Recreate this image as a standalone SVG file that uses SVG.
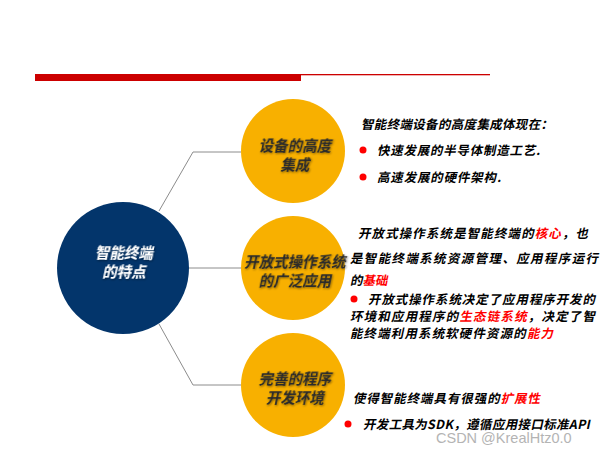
<svg xmlns="http://www.w3.org/2000/svg" width="600" height="450" viewBox="0 0 600 450">
<style>
text{font-family:"Noto Sans CJK SC","Liberation Sans",sans-serif;font-weight:bold;}
.c{font-size:14.5px;text-anchor:middle;fill:#2b2b2b;}
.w{fill:#ffffff;}
.t{font-size:12.5px;fill:#000;}
.r{fill:#ff0000;}
.conn{fill:none;stroke:#8c8c8c;stroke-width:1;}
.dot{fill:#ff0000;}
.org{fill:#f8b000;}
</style>
<defs>
<filter id="sh" x="-10%" y="-10%" width="120%" height="130%">
<feDropShadow dx="1" dy="1" stdDeviation="0.8" flood-color="#000" flood-opacity="0.45"/>
</filter>
</defs>
<rect width="600" height="450" fill="#ffffff"/>
<rect x="35" y="74" width="266" height="7" fill="#cc0000"/>
<rect x="301" y="74" width="189" height="1.3" fill="#cc0000"/>
<g id="connectors">
<polyline class="conn" points="159,211 193,152 241,152"/>
<line class="conn" x1="189" y1="268" x2="241" y2="268"/>
<polyline class="conn" points="159,324 193,385 241,385"/>
</g>
<g id="center">
<circle cx="123" cy="268" r="66" fill="#03356b"/>
<text class="c w" transform="translate(124,258) skewX(-12)" filter="url(#sh)">智能终端</text>
<text class="c w" transform="translate(124,277) skewX(-12)" filter="url(#sh)">的特点</text>
</g>
<g id="n1">
<circle class="org" cx="293" cy="151" r="52"/>
<text class="c" transform="translate(295,151) skewX(-12)" filter="url(#sh)">设备的高度</text>
<text class="c" transform="translate(295,170) skewX(-12)" filter="url(#sh)">集成</text>
</g>
<g id="n2">
<circle class="org" cx="293" cy="268" r="52"/>
<text class="c" transform="translate(295,267) skewX(-12)" filter="url(#sh)">开放式操作系统</text>
<text class="c" transform="translate(295,286) skewX(-12)" filter="url(#sh)">的广泛应用</text>
</g>
<g id="n3">
<circle class="org" cx="293" cy="385" r="52"/>
<text class="c" transform="translate(295,384) skewX(-12)" filter="url(#sh)">完善的程序</text>
<text class="c" transform="translate(295,403) skewX(-12)" filter="url(#sh)">开发环境</text>
</g>
<g id="t1">
<text class="t" transform="translate(361,129) skewX(-12)" textLength="192">智能终端设备的高度集成体现在：</text>
<circle class="dot" cx="363" cy="150" r="3.5"/>
<text class="t" transform="translate(377,155) skewX(-12)" textLength="163">快速发展的半导体制造工艺.</text>
<circle class="dot" cx="363" cy="177" r="3.5"/>
<text class="t" transform="translate(377,182) skewX(-12)" textLength="124">高速发展的硬件架构.</text>
</g>
<g id="t2">
<text class="t" transform="translate(358,238) skewX(-12)" textLength="230">开放式操作系统是智能终端的<tspan class="r">核心</tspan>，也</text>
<text class="t" transform="translate(350,263) skewX(-12)" textLength="248">是智能终端系统资源管理、应用程序运行</text>
<text class="t" transform="translate(350,285) skewX(-12)">的<tspan class="r">基础</tspan></text>
<circle class="dot" cx="354" cy="299" r="3.5"/>
<text class="t" transform="translate(368,304) skewX(-12)" textLength="227">开放式操作系统决定了应用程序开发的</text>
<text class="t" transform="translate(350,321) skewX(-12)" textLength="245">环境和应用程序的<tspan class="r">生态链系统</tspan>，决定了智</text>
<text class="t" transform="translate(350,338) skewX(-12)" textLength="203">能终端利用系统软硬件资源的<tspan class="r">能力</tspan></text>
</g>
<g id="t3">
<text class="t" transform="translate(353,403) skewX(-12)" textLength="187">使得智能终端具有很强的<tspan class="r">扩展性</tspan></text>
<circle class="dot" cx="348" cy="424" r="3.5"/>
<text class="t" transform="translate(363,429) skewX(-12)" textLength="227">开发工具为SDK，遵循应用接口标准API</text>
</g>
<text x="436" y="443" font-size="14.5" fill="#b4b4b4" style="font-family:'Liberation Sans',sans-serif;font-weight:normal">CSDN @KrealHtz0.0</text>
</svg>
